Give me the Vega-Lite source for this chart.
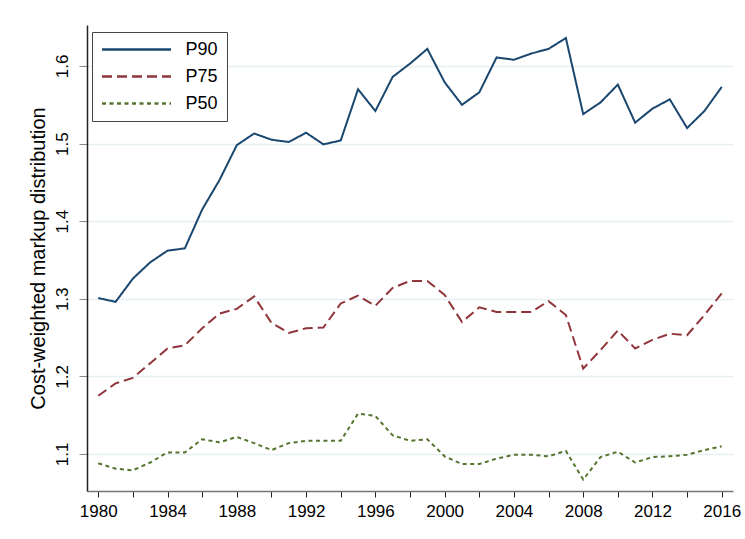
{
  "$schema": "https://vega.github.io/schema/vega-lite/v6.json",
  "autosize": "none",
  "width": 646,
  "height": 466,
  "padding": {"left": 87, "top": 25, "right": 12, "bottom": 48},
  "background": "white",
  "config": {
    "font": "Liberation Sans",
    "view": {"stroke": null}
  },
  "datasets": {
    "d": [
      {"year": 1980, "s": "P90", "v": 1.301}, {"year": 1981, "s": "P90", "v": 1.296}, {"year": 1982, "s": "P90", "v": 1.326}, {"year": 1983, "s": "P90", "v": 1.347}, {"year": 1984, "s": "P90", "v": 1.362}, {"year": 1985, "s": "P90", "v": 1.365}, {"year": 1986, "s": "P90", "v": 1.415}, {"year": 1987, "s": "P90", "v": 1.453}, {"year": 1988, "s": "P90", "v": 1.498}, {"year": 1989, "s": "P90", "v": 1.513}, {"year": 1990, "s": "P90", "v": 1.505}, {"year": 1991, "s": "P90", "v": 1.502}, {"year": 1992, "s": "P90", "v": 1.514}, {"year": 1993, "s": "P90", "v": 1.499}, {"year": 1994, "s": "P90", "v": 1.504}, {"year": 1995, "s": "P90", "v": 1.570}, {"year": 1996, "s": "P90", "v": 1.542}, {"year": 1997, "s": "P90", "v": 1.586}, {"year": 1998, "s": "P90", "v": 1.603}, {"year": 1999, "s": "P90", "v": 1.622}, {"year": 2000, "s": "P90", "v": 1.579}, {"year": 2001, "s": "P90", "v": 1.550}, {"year": 2002, "s": "P90", "v": 1.566}, {"year": 2003, "s": "P90", "v": 1.611}, {"year": 2004, "s": "P90", "v": 1.608}, {"year": 2005, "s": "P90", "v": 1.616}, {"year": 2006, "s": "P90", "v": 1.622}, {"year": 2007, "s": "P90", "v": 1.636}, {"year": 2008, "s": "P90", "v": 1.538}, {"year": 2009, "s": "P90", "v": 1.553}, {"year": 2010, "s": "P90", "v": 1.576}, {"year": 2011, "s": "P90", "v": 1.527}, {"year": 2012, "s": "P90", "v": 1.545}, {"year": 2013, "s": "P90", "v": 1.557}, {"year": 2014, "s": "P90", "v": 1.520}, {"year": 2015, "s": "P90", "v": 1.542}, {"year": 2016, "s": "P90", "v": 1.573},
      {"year": 1980, "s": "P75", "v": 1.175}, {"year": 1981, "s": "P75", "v": 1.191}, {"year": 1982, "s": "P75", "v": 1.198}, {"year": 1983, "s": "P75", "v": 1.217}, {"year": 1984, "s": "P75", "v": 1.236}, {"year": 1985, "s": "P75", "v": 1.240}, {"year": 1986, "s": "P75", "v": 1.262}, {"year": 1987, "s": "P75", "v": 1.281}, {"year": 1988, "s": "P75", "v": 1.287}, {"year": 1989, "s": "P75", "v": 1.303}, {"year": 1990, "s": "P75", "v": 1.269}, {"year": 1991, "s": "P75", "v": 1.256}, {"year": 1992, "s": "P75", "v": 1.262}, {"year": 1993, "s": "P75", "v": 1.263}, {"year": 1994, "s": "P75", "v": 1.294}, {"year": 1995, "s": "P75", "v": 1.304}, {"year": 1996, "s": "P75", "v": 1.291}, {"year": 1997, "s": "P75", "v": 1.314}, {"year": 1998, "s": "P75", "v": 1.323}, {"year": 1999, "s": "P75", "v": 1.323}, {"year": 2000, "s": "P75", "v": 1.305}, {"year": 2001, "s": "P75", "v": 1.270}, {"year": 2002, "s": "P75", "v": 1.289}, {"year": 2003, "s": "P75", "v": 1.283}, {"year": 2004, "s": "P75", "v": 1.283}, {"year": 2005, "s": "P75", "v": 1.283}, {"year": 2006, "s": "P75", "v": 1.297}, {"year": 2007, "s": "P75", "v": 1.279}, {"year": 2008, "s": "P75", "v": 1.210}, {"year": 2009, "s": "P75", "v": 1.234}, {"year": 2010, "s": "P75", "v": 1.259}, {"year": 2011, "s": "P75", "v": 1.236}, {"year": 2012, "s": "P75", "v": 1.247}, {"year": 2013, "s": "P75", "v": 1.255}, {"year": 2014, "s": "P75", "v": 1.253}, {"year": 2015, "s": "P75", "v": 1.279}, {"year": 2016, "s": "P75", "v": 1.307},
      {"year": 1980, "s": "P50", "v": 1.088}, {"year": 1981, "s": "P50", "v": 1.081}, {"year": 1982, "s": "P50", "v": 1.079}, {"year": 1983, "s": "P50", "v": 1.089}, {"year": 1984, "s": "P50", "v": 1.102}, {"year": 1985, "s": "P50", "v": 1.102}, {"year": 1986, "s": "P50", "v": 1.119}, {"year": 1987, "s": "P50", "v": 1.115}, {"year": 1988, "s": "P50", "v": 1.122}, {"year": 1989, "s": "P50", "v": 1.114}, {"year": 1990, "s": "P50", "v": 1.105}, {"year": 1991, "s": "P50", "v": 1.114}, {"year": 1992, "s": "P50", "v": 1.117}, {"year": 1993, "s": "P50", "v": 1.117}, {"year": 1994, "s": "P50", "v": 1.117}, {"year": 1995, "s": "P50", "v": 1.152}, {"year": 1996, "s": "P50", "v": 1.149}, {"year": 1997, "s": "P50", "v": 1.124}, {"year": 1998, "s": "P50", "v": 1.117}, {"year": 1999, "s": "P50", "v": 1.119}, {"year": 2000, "s": "P50", "v": 1.097}, {"year": 2001, "s": "P50", "v": 1.087}, {"year": 2002, "s": "P50", "v": 1.087}, {"year": 2003, "s": "P50", "v": 1.094}, {"year": 2004, "s": "P50", "v": 1.099}, {"year": 2005, "s": "P50", "v": 1.099}, {"year": 2006, "s": "P50", "v": 1.097}, {"year": 2007, "s": "P50", "v": 1.104}, {"year": 2008, "s": "P50", "v": 1.067}, {"year": 2009, "s": "P50", "v": 1.096}, {"year": 2010, "s": "P50", "v": 1.103}, {"year": 2011, "s": "P50", "v": 1.089}, {"year": 2012, "s": "P50", "v": 1.096}, {"year": 2013, "s": "P50", "v": 1.097}, {"year": 2014, "s": "P50", "v": 1.099}, {"year": 2015, "s": "P50", "v": 1.105}, {"year": 2016, "s": "P50", "v": 1.110}
    ]
  },
  "data": {"name": "d"},
  "mark": {"type": "line", "strokeWidth": 2, "clip": false},
  "encoding": {
    "x": {
      "field": "year", "type": "quantitative",
      "scale": {"domain": [1979.35, 2016.65], "nice": false, "zero": false},
      "axis": {
        "title": null,
        "values": [1980, 1982, 1984, 1986, 1988, 1990, 1992, 1994, 1996, 1998, 2000, 2002, 2004, 2006, 2008, 2010, 2012, 2014, 2016],
        "format": "d",
        "labelExpr": "datum.value % 4 == 0 ? datum.label : ''",
        "grid": false,
        "domainColor": "#777777",
        "domainWidth": 1.5,
        "tickColor": "#222222",
        "tickSize": 6,
        "labelFontSize": 17,
        "labelColor": "#000000",
        "labelPadding": 6,
        "labelFlush": false,
        "labelOverlap": false
      }
    },
    "y": {
      "field": "v", "type": "quantitative",
      "scale": {"domain": [1.0523, 1.6528], "nice": false, "zero": false},
      "axis": {
        "title": "Cost-weighted markup distribution",
        "titleFontSize": 20,
        "titleFontWeight": "normal",
        "titleColor": "#000000",
        "titlePadding": 5,
        "values": [1.1, 1.2, 1.3, 1.4, 1.5, 1.6],
        "format": ".1f",
        "labelAngle": -90,
        "labelAlign": "center",
        "labelBaseline": "bottom",
        "labelFontSize": 17,
        "labelColor": "#000000",
        "labelPadding": 8,
        "tickSize": 8,
        "tickColor": "#888888",
        "domainColor": "#222222",
        "domainWidth": 1.5,
        "grid": true,
        "gridColor": "#e6eff2",
        "gridWidth": 1.5
      }
    },
    "color": {
      "field": "s", "type": "nominal",
      "scale": {"domain": ["P90", "P75", "P50"], "range": ["#1a476f", "#90353b", "#55752f"]},
      "legend": {
        "title": null,
        "orient": "none",
        "legendX": 5,
        "legendY": 7,
        "symbolType": "M-1,0H8.2",
        "symbolSize": 225,
        "symbolStrokeWidth": 2.5,
        "labelFontSize": 18,
        "labelColor": "#000000",
        "labelOffset": 67,
        "strokeColor": "#444444",
        "fillColor": "white",
        "padding": 8.5,
        "rowPadding": 9
      }
    },
    "strokeDash": {
      "field": "s", "type": "nominal",
      "scale": {"domain": ["P90", "P75", "P50"], "range": [[1, 0], [10, 5], [4, 3.5]]}
    }
  }
}
